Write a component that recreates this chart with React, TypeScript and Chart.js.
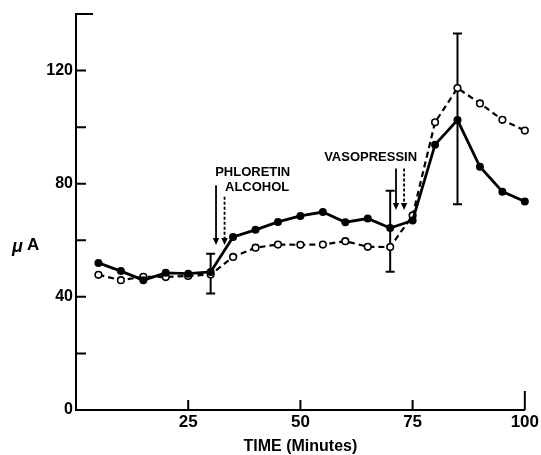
import { useEffect, useRef } from 'react';
import { Chart, registerables } from 'chart.js';

Chart.register(...registerables);

// ---- data ----
const times = [5, 10, 15, 20, 25, 30, 35, 40, 45, 50, 55, 60, 65, 70, 75, 80, 85, 90, 95, 100];
const phloretinSeries = [52.0, 49.1, 45.9, 48.5, 48.2, 48.8, 61.2, 63.7, 66.5, 68.6, 70.0, 66.4, 67.7, 64.3, 67.0, 93.8, 102.5, 86.0, 77.2, 73.7];
const alcoholSeries = [47.8, 45.9, 47.1, 47.0, 47.4, 47.9, 54.1, 57.4, 58.5, 58.4, 58.5, 59.7, 57.7, 57.6, 68.8, 101.7, 113.8, 108.4, 102.6, 98.8];

const errorTimes = [30, 70, 85];
const errorLow = [41.2, 48.9, 72.7];
const errorHigh = [55.2, 77.5, 133.1];

const arrowTimes = [31.2, 33.1, 71.3, 73.1];
const arrowTop = [79.5, 75.4, 85.4, 85.4];
const arrowTip = [58.3, 58.3, 70.7, 70.7];
const arrowDashed = [false, true, false, true];

const noteTexts = ['PHLORETIN', 'ALCOHOL', 'VASOPRESSIN'];
const noteTimes = [31.0, 33.2, 76.0];
const noteValues = [84.0, 78.6, 89.3];

const yTickLabels = [0, 40, 80, 120];
const yTickMarks = [20, 40, 60, 80, 100, 120];
const xTickMarks = [25, 50, 75, 100];

const FONT = '"Liberation Sans", Arial, sans-serif';

const decorPlugin = {
  id: 'decor',
  beforeDatasetsDraw(chart: any) {
    const { ctx } = chart;
    const xs = chart.scales.x;
    const ys = chart.scales.y;
    ctx.save();
    ctx.strokeStyle = '#000';
    ctx.lineWidth = 2;
    errorTimes.forEach((t, i) => {
      const x = xs.getPixelForValue(t);
      const y1 = ys.getPixelForValue(errorHigh[i]);
      const y2 = ys.getPixelForValue(errorLow[i]);
      ctx.beginPath();
      ctx.moveTo(x, y1);
      ctx.lineTo(x, y2);
      ctx.moveTo(x - 4.5, y1);
      ctx.lineTo(x + 4.5, y1);
      ctx.moveTo(x - 4.5, y2);
      ctx.lineTo(x + 4.5, y2);
      ctx.stroke();
    });
    ctx.restore();
  },
  afterDraw(chart: any) {
    const { ctx, chartArea } = chart;
    const xs = chart.scales.x;
    const ys = chart.scales.y;
    ctx.save();
    ctx.strokeStyle = '#000';
    ctx.fillStyle = '#000';
    ctx.lineWidth = 2;
    // inward tick marks
    ctx.beginPath();
    yTickMarks.forEach((v) => {
      const y = ys.getPixelForValue(v);
      ctx.moveTo(chartArea.left, y);
      ctx.lineTo(chartArea.left + 10, y);
    });
    const yTop = ys.getPixelForValue(140);
    ctx.moveTo(chartArea.left - 1, yTop);
    ctx.lineTo(chartArea.left + 17, yTop);
    xTickMarks.forEach((v) => {
      const x = xs.getPixelForValue(v);
      ctx.moveTo(x, chartArea.bottom);
      ctx.lineTo(x, chartArea.bottom - (v === 100 ? 19 : 10));
    });
    ctx.stroke();

    // arrows
    arrowTimes.forEach((t, i) => {
      const x = xs.getPixelForValue(t);
      const y1 = ys.getPixelForValue(arrowTop[i]);
      const y2 = ys.getPixelForValue(arrowTip[i]);
      ctx.lineWidth = 1.8;
      ctx.setLineDash(arrowDashed[i] ? [3, 2] : []);
      ctx.beginPath();
      ctx.moveTo(x, y1);
      ctx.lineTo(x, y2 - 6);
      ctx.stroke();
      ctx.setLineDash([]);
      ctx.beginPath();
      ctx.moveTo(x - 3.2, y2 - 7);
      ctx.lineTo(x + 3.2, y2 - 7);
      ctx.lineTo(x, y2);
      ctx.closePath();
      ctx.fill();
    });

    // notes
    ctx.font = `bold 13px ${FONT}`;
    ctx.textBaseline = 'middle';
    noteTexts.forEach((txt, i) => {
      ctx.textAlign = i === 2 ? 'right' : 'left';
      ctx.fillText(txt, xs.getPixelForValue(noteTimes[i]), ys.getPixelForValue(noteValues[i]));
    });

    // axis titles
    ctx.textAlign = 'center';
    ctx.font = `bold 16px ${FONT}`;
    ctx.fillText('TIME (Minutes)', xs.getPixelForValue(50), chartArea.bottom + 37);
    ctx.textAlign = 'left';
    ctx.font = `italic bold 18px ${FONT}`;
    const yl = ys.getPixelForValue(58.3);
    ctx.fillText('\u03bc', 12, yl + 2);
    ctx.font = `bold 17px ${FONT}`;
    ctx.fillText('A', 27, yl);
    ctx.restore();
  },
};

export default function App() {
  const ref = useRef<HTMLCanvasElement | null>(null);
  useEffect(() => {
    if (!ref.current) return;
    const chart = new Chart(ref.current, {
      type: 'line',
      data: {
        datasets: [
          {
            label: 'Phloretin',
            data: times.map((t, i) => ({ x: t, y: phloretinSeries[i] })),
            borderColor: '#000',
            borderWidth: 2.8,
            pointRadius: 4,
            pointBackgroundColor: '#000',
            pointBorderColor: '#000',
            pointBorderWidth: 0,
            tension: 0,
            clip: false,
          },
          {
            label: 'Alcohol',
            data: times.map((t, i) => ({ x: t, y: alcoholSeries[i] })),
            borderColor: '#000',
            borderWidth: 2.2,
            borderDash: [6, 4],
            pointRadius: 3.3,
            pointBackgroundColor: '#fff',
            pointBorderColor: '#000',
            pointBorderWidth: 1.6,
            tension: 0,
            clip: false,
          },
        ],
      },
      options: {
        responsive: false,
        animation: false,
        devicePixelRatio: 1,
        layout: { padding: { top: 14, right: 16, left: 0, bottom: 0 } },
        plugins: { legend: { display: false }, tooltip: { enabled: false } },
        scales: {
          x: {
            type: 'linear',
            min: 0,
            max: 100,
            grid: { display: false, drawTicks: false },
            border: { display: true, color: '#000', width: 2 },
            ticks: {
              stepSize: 25,
              padding: 2,
              color: '#000',
              font: { family: FONT, size: 17, weight: 'bold' },
              callback: (v: any) => (v === 0 ? '' : String(v)),
            },
            afterFit: (s: any) => {
              s.height = 45;
            },
          },
          y: {
            type: 'linear',
            min: 0,
            max: 140,
            grid: { display: false, drawTicks: false },
            border: { display: true, color: '#000', width: 2 },
            ticks: {
              stepSize: 20,
              padding: 3,
              color: '#000',
              font: { family: FONT, size: 16, weight: 'bold' },
              callback: (v: any) => (yTickLabels.includes(v) ? String(v) : ''),
            },
            afterFit: (s: any) => {
              s.width = 76;
            },
          },
        },
      },
      plugins: [decorPlugin],
    });
    return () => chart.destroy();
  }, []);
  return (
    <div style={{ position: 'absolute', left: 0, top: 0, width: 541, height: 455, background: '#fff' }}>
      <canvas ref={ref} width={541} height={455} />
    </div>
  );
}
